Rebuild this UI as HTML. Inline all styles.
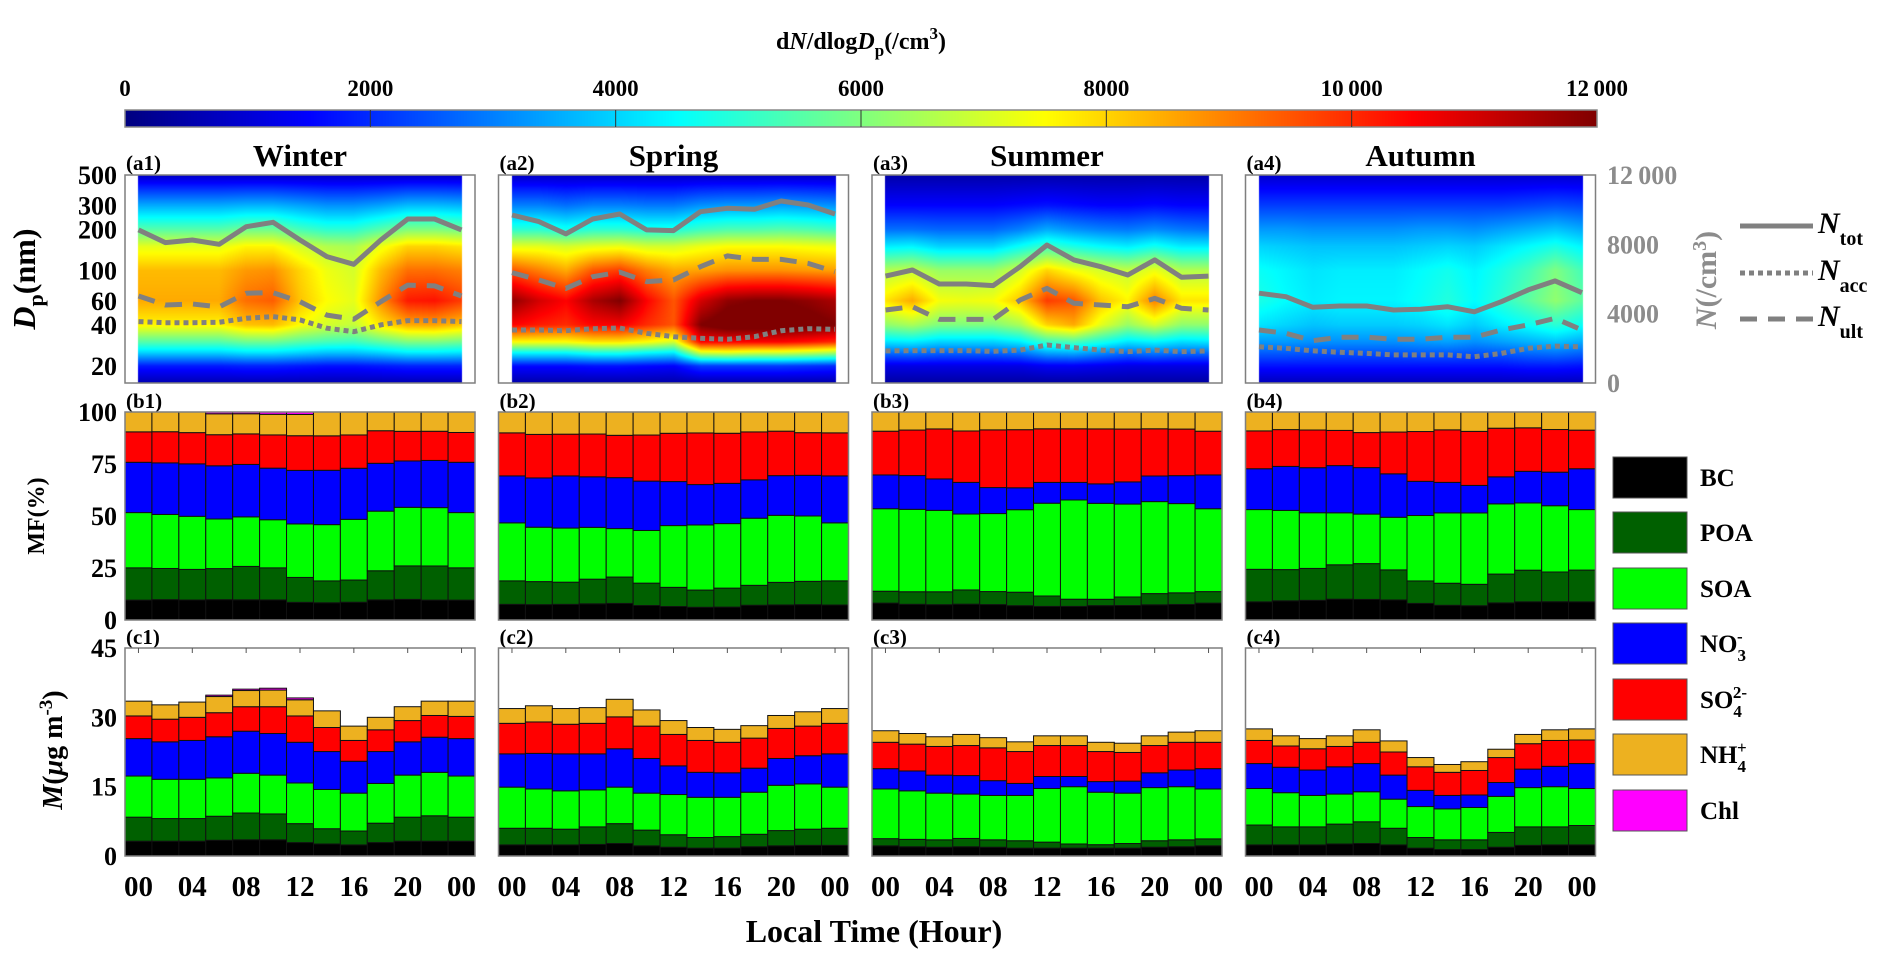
<!DOCTYPE html>
<html><head><meta charset="utf-8"><style>
body{margin:0;background:#fff}
#root{position:relative;width:1892px;height:969px;background:#fff;overflow:hidden;font-family:"Liberation Serif",serif}
canvas{position:absolute}
svg{position:absolute;left:0;top:0}
text{font-family:"Liberation Serif",serif;font-weight:bold}
</style></head><body>
<div id="root">
<canvas id="cbar" width="1472" height="17" style="left:125px;top:110px"></canvas>
<svg id="svg" width="1892" height="969">
<text x="861" y="49" font-size="24" text-anchor="middle">d<tspan font-style="italic">N</tspan>/dlog<tspan font-style="italic">D</tspan><tspan font-size="17" dy="7">p</tspan><tspan dy="-7">(/cm</tspan><tspan font-size="17" dy="-10">3</tspan><tspan dy="10">)</tspan></text>
<rect x="125" y="110" width="1472" height="17" fill="none" stroke="#888" stroke-width="1.5"/>
<text x="35" y="279" font-size="32" text-anchor="middle" transform="rotate(-90 35 279)"><tspan font-style="italic">D</tspan><tspan font-size="22" dy="8">p</tspan><tspan dy="-8">(nm)</tspan></text>
<text x="44" y="516" font-size="24" text-anchor="middle" transform="rotate(-90 44 516)">MF(%)</text>
<text x="62" y="750" font-size="28" text-anchor="middle" transform="rotate(-90 62 750)"><tspan font-style="italic">M</tspan>(<tspan font-style="italic">μ</tspan>g m<tspan font-size="19" dy="-10">-3</tspan><tspan dy="10">)</tspan></text>
<text x="874" y="942" font-size="32" text-anchor="middle">Local Time (Hour)</text>
<text x="1716" y="280" font-size="30" fill="#8c8c8c" text-anchor="middle" transform="rotate(-90 1716 280)"><tspan font-style="italic">N</tspan>(/cm<tspan font-size="20" dy="-10">3</tspan><tspan dy="10">)</tspan></text>
<line x1="1740" y1="226" x2="1813" y2="226" stroke="#808080" stroke-width="5"/>
<line x1="1740" y1="273" x2="1813" y2="273" stroke="#808080" stroke-width="5" stroke-dasharray="5 4"/>
<line x1="1740" y1="319" x2="1813" y2="319" stroke="#808080" stroke-width="5" stroke-dasharray="17 11"/>
<text x="1818" y="233" font-size="30"><tspan font-style="italic">N</tspan><tspan font-size="20" dy="12">tot</tspan></text>
<text x="1818" y="280" font-size="30"><tspan font-style="italic">N</tspan><tspan font-size="20" dy="12">acc</tspan></text>
<text x="1818" y="326" font-size="30"><tspan font-style="italic">N</tspan><tspan font-size="20" dy="12">ult</tspan></text>
<g id="dyn"></g>
</svg>
</div>
<script>
// ---- data ----
const hours=[0,2,4,6,8,10,12,14,16,18,20,22,24];
const dpGrid=[15,20,25,30,40,60,100,150,200,300,500];
const xTickLabels=['00','04','08','12','16','20','00'];
const xTickHours=[0,4,8,12,16,20,24];
const cbarTicks=[0,2000,4000,6000,8000,10000,12000];
const cbarLabels=['0','2000','4000','6000','8000','10\u2009000','12\u2009000'];
const dpTicks=[500,300,200,100,60,40,20];
const mfTicks=[100,75,50,25,0];
const massTicks=[45,30,15,0];
const nTicks=[12000,8000,4000,0];
const nTickLabels=['12\u2009000','8000','4000','0'];
const seasonNames=['Winter','Spring','Summer','Autumn'];
const speciesNames=['BC','POA','SOA','NO3','SO4','NH4','Chl'];

const winterDN=[
[600,600,600,600,600,600,600,600,600,600,600,600,600],
[1800,1800,1800,1800,1900,1900,1800,1700,1700,1800,1900,1900,1900],
[4000,4000,4000,4000,4200,4200,4000,3800,3800,4000,4300,4300,4200],
[5500,5500,5500,5500,5800,5800,5500,5300,5200,5600,6000,6000,5800],
[7600,7600,7600,7600,8200,8300,7500,7000,6800,7800,8500,8600,8200],
[8500,8500,8500,8500,9200,9400,8200,7500,7200,8800,10200,10300,9800],
[8300,8300,8300,8300,8700,8800,8000,7300,7000,8300,9200,9200,9000],
[7200,7200,7200,7200,7600,7600,7000,6600,6500,7300,8000,8000,7800],
[5500,5500,5500,5500,5800,5800,5300,5000,5000,5500,6000,6000,5800],
[3500,3500,3500,3500,3600,3600,3400,3200,3200,3400,3700,3700,3600],
[800,800,800,800,800,800,800,800,800,800,800,800,800]];
const springDN=[
[500,500,500,500,500,500,500,500,500,500,500,500,500],
[1600,1600,1600,1700,1700,1600,1500,2200,2200,2200,2200,2100,2000],
[4500,4500,4500,4800,4800,4500,4300,7000,7200,7000,7000,6800,6500],
[7500,7500,7500,7800,7800,7500,7000,10500,10500,10500,10500,10300,10000],
[10500,10200,10000,10500,10600,10000,9500,12000,12500,12500,12500,12300,12000],
[11800,11000,10500,11500,12000,10500,9500,11000,11800,12000,12000,11800,11500],
[9500,9000,8500,9500,9800,9000,8500,8600,8800,8800,8800,8700,8600],
[7200,7200,7000,7200,7300,7000,7000,7300,7500,7500,7500,7400,7300],
[5000,5000,4700,5000,5000,4800,4800,5200,5400,5400,5500,5400,5200],
[3000,3000,2800,3000,3000,2900,2900,3200,3300,3300,3400,3300,3200],
[800,800,800,800,800,800,800,800,800,800,800,800,800]];
const summerDN=[
[400,400,400,400,400,400,400,400,400,400,400,400,400],
[1200,1200,1200,1200,1200,1200,1400,1400,1300,1200,1200,1200,1200],
[2800,2900,2700,2700,2700,2900,3500,3600,3200,2800,3000,2800,2800],
[4200,4300,4000,4000,4000,4300,5200,5400,4800,4200,4400,4100,4200],
[6200,6500,6000,6000,6000,6500,8000,8500,7200,6300,7000,6200,6200],
[7800,8500,7400,7300,7400,8200,9800,9500,8200,7600,9000,7800,7800],
[6600,6800,6300,6300,6300,7000,8000,7400,7000,6800,7300,6600,6600],
[4300,4400,4000,4000,4000,4600,5200,4800,4500,4300,4700,4300,4300],
[2800,2800,2700,2700,2700,3000,3500,3200,3000,2900,3100,2900,2800],
[1500,1500,1500,1500,1500,1600,1700,1600,1500,1500,1600,1500,1500],
[500,500,500,500,500,500,500,500,500,500,500,500,500]];
const autumnDN=[
[700,700,700,700,700,700,700,700,700,700,700,700,700],
[1700,1700,1700,1700,1700,1700,1700,1700,1700,1700,1800,1800,1700],
[2600,2600,2500,2500,2500,2500,2600,2600,2500,2600,2800,2900,2700],
[3300,3300,3200,3200,3200,3200,3300,3400,3200,3400,3600,3800,3500],
[4200,4000,3800,3900,3900,3900,4000,4200,3900,4300,4600,5000,4600],
[4800,4500,4300,4400,4400,4400,4600,4900,4500,5000,5600,6200,5600],
[4600,4400,4200,4300,4300,4300,4500,4700,4400,4800,5300,6000,5300],
[4000,3900,3800,3800,3800,3800,3900,4000,3900,4200,4500,4800,4400],
[3300,3300,3200,3200,3200,3200,3300,3300,3200,3400,3600,3800,3500],
[2200,2200,2200,2200,2200,2200,2200,2200,2200,2200,2300,2400,2300],
[900,900,900,900,900,900,900,900,900,900,900,900,900]];

const winterNtot=[8830,8100,8250,8000,9020,9270,8250,7290,6850,8250,9460,9460,8830];
const winterNult=[5020,4500,4560,4390,5180,5210,4690,3920,3680,4690,5650,5600,5020];
const winterNacc=[3540,3480,3480,3500,3730,3830,3640,3160,2960,3350,3600,3600,3540];
const springNtot=[9690,9310,8600,9460,9750,8830,8790,9880,10080,10020,10500,10270,9750];
const springNult=[6370,5940,5460,6130,6400,5850,5940,6710,7330,7130,7130,6900,6420];
const springNacc=[3060,3060,3020,3130,3170,2870,2670,2580,2520,2670,3020,3130,3100];
const summerNtot=[6170,6520,5710,5710,5620,6710,7960,7100,6710,6230,7100,6100,6170];
const summerNult=[4210,4400,3670,3670,3670,4790,5460,4600,4500,4400,4880,4310,4210];
const summerNacc=[1850,1870,1870,1870,1830,1900,2190,2040,1900,1810,1900,1810,1850];
const autumnNtot=[5180,4980,4370,4440,4440,4210,4250,4400,4110,4690,5370,5890,5210];
const autumnNult=[3060,2870,2440,2640,2640,2520,2520,2640,2640,3060,3350,3730,3060];
const autumnNacc=[2090,2000,1860,1770,1710,1620,1620,1620,1520,1710,2000,2130,2090];

const winterBC=[3.2,3.2,3.2,3.4,3.5,3.5,2.9,2.6,2.4,2.9,3.2,3.2,3.2];
const winterPOA=[5.2,4.9,4.9,5.2,5.8,5.6,4.1,3.3,3.0,4.2,5.2,5.5,5.2];
const winterSOA=[8.9,8.5,8.5,8.3,8.6,8.4,8.8,8.5,8.2,8.6,9.1,9.4,8.9];
const winterNO3=[8.1,8.1,8.4,8.9,9.1,9.0,8.8,8.2,6.9,6.9,7.2,7.6,8.1];
const winterSO4=[4.9,4.9,5.0,5.2,5.3,5.8,5.7,5.2,4.5,4.7,4.6,4.7,4.8];
const winterNH4=[3.2,3.1,3.3,3.5,3.5,3.6,3.5,3.6,3.1,2.7,3.0,3.1,3.3];
const winterChl=[0,0,0,0.3,0.3,0.4,0.4,0,0,0,0,0,0];
const springBC=[2.4,2.4,2.4,2.5,2.7,2.2,1.9,1.7,1.7,2.0,2.2,2.3,2.3];
const springPOA=[3.6,3.6,3.4,3.8,4.3,3.4,2.7,2.3,2.5,2.7,3.3,3.5,3.7];
const springSOA=[8.9,8.5,8.3,8.0,7.9,8.0,8.7,8.7,8.5,9.1,9.8,9.8,8.9];
const springNO3=[7.2,7.7,8.0,7.8,8.3,7.5,6.2,5.4,5.3,5.2,5.8,6.1,7.2];
const springSO4=[6.6,6.8,6.4,6.6,6.9,7.0,6.8,6.9,6.6,6.5,6.5,6.4,6.6];
const springNH4=[3.2,3.5,3.4,3.4,3.8,3.5,3.0,2.8,2.8,2.7,2.8,3.1,3.2];
const springChl=[0,0,0,0,0,0,0,0,0,0,0,0,0];
const summerBC=[2.2,2.0,1.9,2.0,1.9,1.7,1.7,1.7,1.7,1.7,1.9,2.0,2.2];
const summerPOA=[1.55,1.6,1.6,1.8,1.6,1.6,1.3,0.9,0.75,1.0,1.4,1.5,1.5];
const summerSOA=[10.75,10.5,10.1,9.6,9.6,9.8,11.6,12.4,11.35,10.9,11.5,11.5,10.8];
const summerNO3=[4.4,4.3,3.9,4.0,3.2,2.6,2.6,2.2,2.3,2.6,3.2,3.6,4.4];
const summerSO4=[5.7,5.8,6.2,6.5,7.1,6.9,6.7,6.7,6.5,6.2,5.9,6.0,5.7];
const summerNH4=[2.5,2.3,2.1,2.4,2.2,2.1,2.1,2.1,2.0,2.0,2.1,2.2,2.5];
const summerChl=[0,0,0,0,0,0,0,0,0,0,0,0,0];
const autumnBC=[2.4,2.4,2.4,2.6,2.7,2.4,1.7,1.4,1.4,1.9,2.3,2.4,2.4];
const autumnPOA=[4.3,3.9,3.9,4.3,4.7,3.6,2.3,2.1,2.1,3.2,4.0,3.9,4.2];
const autumnSOA=[7.9,7.4,6.8,6.5,6.5,6.3,6.7,6.7,7.0,7.8,8.5,8.7,8.0];
const autumnNO3=[5.4,5.5,5.5,5.9,6.1,5.2,3.5,2.9,2.7,3.0,4.0,4.4,5.4];
const autumnSO4=[5.0,4.6,4.6,4.4,4.6,5.0,5.1,5.0,5.3,5.4,5.5,5.6,5.1];
const autumnNH4=[2.5,2.2,2.2,2.3,2.7,2.4,2.0,1.7,1.9,1.8,2.0,2.3,2.4];
const autumnChl=[0,0,0,0,0,0,0,0,0,0,0,0,0];

// ---- layout ----
const speciesColors=['#000000','#006000','#00ff00','#0000ff','#ff0000','#edb120','#ff00ff'];
const seasons=[
 {dn:winterDN,ntot:winterNtot,nult:winterNult,nacc:winterNacc,mass:[winterBC,winterPOA,winterSOA,winterNO3,winterSO4,winterNH4,winterChl]},
 {dn:springDN,ntot:springNtot,nult:springNult,nacc:springNacc,mass:[springBC,springPOA,springSOA,springNO3,springSO4,springNH4,springChl]},
 {dn:summerDN,ntot:summerNtot,nult:summerNult,nacc:summerNacc,mass:[summerBC,summerPOA,summerSOA,summerNO3,summerSO4,summerNH4,summerChl]},
 {dn:autumnDN,ntot:autumnNtot,nult:autumnNult,nacc:autumnNacc,mass:[autumnBC,autumnPOA,autumnSOA,autumnNO3,autumnSO4,autumnNH4,autumnChl]}];
const lefts=[125,498.5,872,1245.5];
const PW=350, HT=175, HB=383, BT=412, BB=620, CT=648, CB=856, CMAX=12000, MMAX=45;
const pxPerH=PW/26;
const xs=(i,h)=>lefts[i]+(h+1)*pxPerH;
const yDp=d=>HT+Math.log10(500/d)*(HB-HT)/Math.log10(500/15);
const yN=n=>HB-n/CMAX*(HB-HT);
const yMF=p=>BB-p/100*(BB-BT);
const yM=m=>CB-m/MMAX*(CB-CT);
function jet(t){t=Math.max(0,Math.min(1,t));const c=v=>Math.round(255*Math.max(0,Math.min(1,v)));
 return [c(1.5-Math.abs(4*t-3)),c(1.5-Math.abs(4*t-2)),c(1.5-Math.abs(4*t-1))];}

const NS='http://www.w3.org/2000/svg';
const dyn=document.getElementById('dyn');
function el(tag,attrs,parent){const e=document.createElementNS(NS,tag);for(const k in attrs)e.setAttribute(k,attrs[k]);(parent||dyn).appendChild(e);return e;}
function txt(s,attrs){const e=el('text',attrs);e.textContent=s;return e;}

// colorbar
(function(){const cv=document.getElementById('cbar'),ctx=cv.getContext('2d');const im=ctx.createImageData(cv.width,cv.height);
 for(let x=0;x<cv.width;x++){const c=jet((x+0.5)/cv.width);for(let y=0;y<cv.height;y++){const k=(y*cv.width+x)*4;im.data[k]=c[0];im.data[k+1]=c[1];im.data[k+2]=c[2];im.data[k+3]=255;}}
 ctx.putImageData(im,0,0);})();
cbarTicks.forEach((v,i)=>{const x=125+v/CMAX*1472;
 if(i>0&&i<cbarTicks.length-1){const l=el('line',{x1:x,x2:x,y1:110,y2:127,stroke:'#333','stroke-width':1});
  
  }
 const t=txt(cbarLabels[i],{x:x,y:96,'font-size':23,'text-anchor':'middle'});
 
 
});

const lg=dpGrid.map(d=>Math.log10(d));
seasons.forEach((s,i)=>{
 const L=lefts[i];
 const cv=document.createElement('canvas');cv.width=PW;cv.height=HB-HT;cv.style.left=L+'px';cv.style.top=HT+'px';
 
 
 document.getElementById('root').insertBefore(cv,document.getElementById('svg'));
 const ctx=cv.getContext('2d'),im=ctx.createImageData(cv.width,cv.height);
 for(let px=0;px<cv.width;px++){const h=(px+0.5)/pxPerH-1;
  for(let py=0;py<cv.height;py++){const k=(py*cv.width+px)*4;let c=[255,255,255];
   if(h>=0&&h<=24){let j=Math.min(11,Math.floor(h/2));const fx=(h-hours[j])/2;
    const ld=Math.log10(500)-(py+0.5)/(HB-HT)*Math.log10(500/15);
    let r=0;while(r<lg.length-2&&ld>lg[r+1])r++;let fy=(ld-lg[r])/(lg[r+1]-lg[r]);fy=Math.max(0,Math.min(1,fy));
    const v0=s.dn[r][j]*(1-fx)+s.dn[r][j+1]*fx,v1=s.dn[r+1][j]*(1-fx)+s.dn[r+1][j+1]*fx;
    c=jet((v0*(1-fy)+v1*fy)/CMAX);}
   im.data[k]=c[0];im.data[k+1]=c[1];im.data[k+2]=c[2];im.data[k+3]=255;}}
 ctx.putImageData(im,0,0);
 [['ntot','none','n-total-line'],['nult','17 11','n-ultrafine-line'],['nacc','5 4','n-accumulation-line']].forEach(([key,dash,nm])=>{
  const pts=s[key].map((v,j)=>xs(i,hours[j]).toFixed(1)+','+yN(v).toFixed(1)).join(' ');
  const p=el('polyline',{points:pts,fill:'none',stroke:'#808080','stroke-width':5,'stroke-dasharray':dash,'stroke-linejoin':'round'});
  
  
 });
 const f1=el('rect',{x:L,y:HT,width:PW,height:HB-HT,fill:'none',stroke:'#7f7f7f','stroke-width':1.5});
 
 
 const st=txt(seasonNames[i],{x:L+175,y:166,'font-size':31,'text-anchor':'middle'});
 
 
 const la=txt('(a'+(i+1)+')',{x:L+1,y:170,'font-size':21});
 
 
 const lb=txt('(b'+(i+1)+')',{x:L+1,y:408,'font-size':21});
 
 
 const lc=txt('(c'+(i+1)+')',{x:L+1,y:644,'font-size':21});
 
 
 hours.forEach((h,j)=>{
  const tot=s.mass.reduce((a,arr)=>a+arr[j],0);let cm=0,cp=0;
  s.mass.forEach((arr,k)=>{const v=arr[j];if(v<=0)return;
   const x0=xs(i,h-1),w=2*pxPerH;
   const rb=el('rect',{x:x0,y:yMF(cp+v/tot*100),width:w,height:yMF(cp)-yMF(cp+v/tot*100),fill:speciesColors[k],stroke:'#111','stroke-width':1});
   
   
   const rc=el('rect',{x:x0,y:yM(cm+v),width:w,height:yM(cm)-yM(cm+v),fill:speciesColors[k],stroke:'#111','stroke-width':1});
   
   
   cp+=v/tot*100;cm+=v;});
 });
 const f2=el('rect',{x:L,y:BT,width:PW,height:BB-BT,fill:'none',stroke:'#7f7f7f','stroke-width':1.5});
 
 
 const f3=el('rect',{x:L,y:CT,width:PW,height:CB-CT,fill:'none',stroke:'#7f7f7f','stroke-width':1.5});
 
 
 xTickHours.forEach((h,k)=>{
  const tk=el('line',{x1:xs(i,h),x2:xs(i,h),y1:CT,y2:CT+5,stroke:'#555','stroke-width':1});
  
  
  const t=txt(xTickLabels[k],{x:xs(i,h),y:896,'font-size':29,'text-anchor':'middle'});
  
  
 });
});
dpTicks.forEach(d=>{const t=txt(String(d),{x:117,y:yDp(d)+9,'font-size':26,'text-anchor':'end'});
 
 });
mfTicks.forEach(p=>{const t=txt(String(p),{x:117,y:yMF(p)+9,'font-size':26,'text-anchor':'end'});
 
 });
massTicks.forEach(m=>{const t=txt(String(m),{x:117,y:yM(m)+9,'font-size':26,'text-anchor':'end'});
 
 });
nTicks.forEach((n,k)=>{const t=txt(nTickLabels[k],{x:1607,y:yN(n)+9,'font-size':26,fill:'#8c8c8c'});
 
 });
const legY=[477,532,588,643,699,754,810];
speciesNames.forEach((n,k)=>{
 const r=el('rect',{x:1613,y:legY[k]-20,width:74,height:41,fill:speciesColors[k],stroke:'#555','stroke-width':1});
 
 
 const t=el('text',{x:1700,y:legY[k]+9,'font-size':25});
 
 
 if(n==='NO3')t.innerHTML='NO<tspan font-size="17" dy="9">3</tspan><tspan font-size="17" dx="-9" dy="-19">-</tspan>';
 else if(n==='SO4')t.innerHTML='SO<tspan font-size="17" dy="9">4</tspan><tspan font-size="17" dx="-9" dy="-19">2-</tspan>';
 else if(n==='NH4')t.innerHTML='NH<tspan font-size="17" dy="9">4</tspan><tspan font-size="17" dx="-9" dy="-19">+</tspan>';
 else t.textContent=n;
});
</script>
</body></html>
